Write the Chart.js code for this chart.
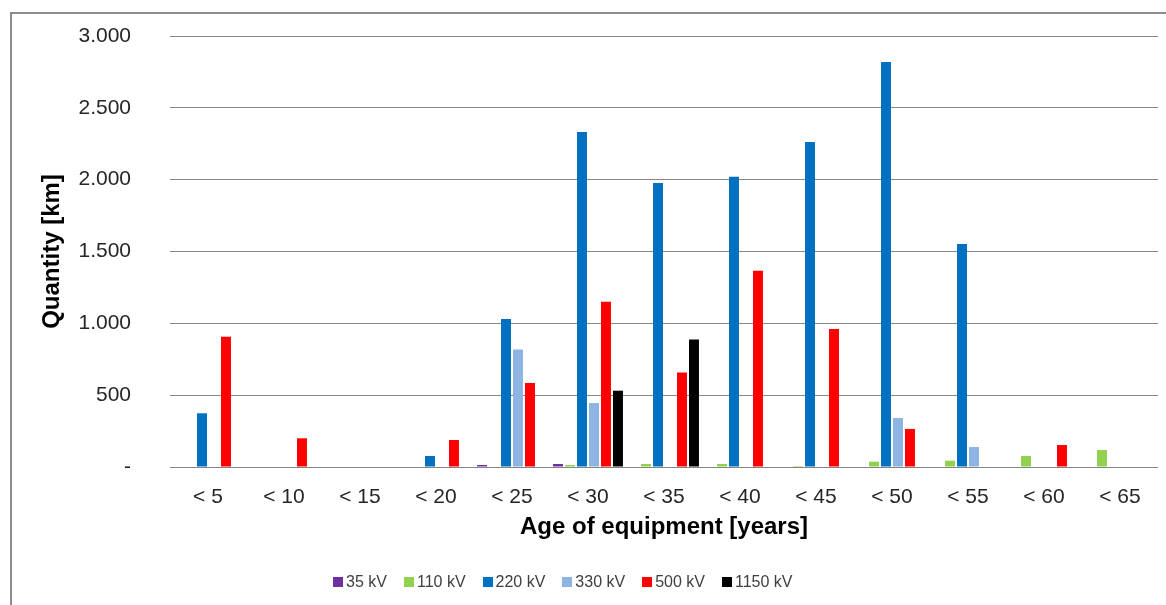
<!DOCTYPE html>
<html>
<head>
<meta charset="utf-8">
<script src="https://cdn.jsdelivr.net/npm/chart.js@4.4.1/dist/chart.umd.min.js"></script>
<style>
  html, body { margin: 0; padding: 0; background: #ffffff; }
  #wrap { position: relative; width: 1166px; height: 605px; overflow: hidden; background: #fff; }
  #frame { position: absolute; left: 10px; top: 12px; width: 1200px; height: 700px;
           border-left: 2px solid #8c8c8c; border-top: 2px solid #8c8c8c; box-sizing: border-box; }
  canvas { position: absolute; left: 0; top: 0; }
  #legend { position: absolute; left: 333px; top: 573px; display: flex; align-items: center;
            font-family: "Liberation Sans", Arial, sans-serif; font-size: 16px; color: #404040; }
  .item { display: flex; align-items: center; margin-right: 17px; }
  .box { width: 10px; height: 10px; margin-right: 3px; }
</style>
</head>
<body>
<div id="wrap">
  <div id="frame"></div>
  <canvas id="c" width="1166" height="605"></canvas>
  <div id="legend"></div>
</div>
<script>
const categories = ['< 5', '< 10', '< 15', '< 20', '< 25', '< 30', '< 35', '< 40', '< 45', '< 50', '< 55', '< 60', '< 65'];
const seriesNames = ['35 kV', '110 kV', '220 kV', '330 kV', '500 kV', '1150 kV'];
const kv35   = [0, 0, 0, 0, 14, 21, 0, 0, 0, 0, 0, 0, 0];
const kv110  = [0, 0, 0, 0, 0, 14, 21, 21, 7, 37, 44, 77, 118];
const kv220  = [374, 0, 0, 77, 1030, 2332, 1977, 2021, 2262, 2819, 1552, 0, 0];
const kv330  = [0, 0, 0, 0, 817, 445, 0, 0, 0, 341, 139, 0, 0];
const kv500  = [907, 200, 0, 188, 585, 1151, 657, 1366, 960, 265, 0, 153, 0];
const kv1150 = [0, 0, 0, 0, 0, 531, 887, 0, 0, 0, 0, 0, 0];
const yTicks = [0, 500, 1000, 1500, 2000, 2500, 3000];
const colors = ['#7030A0', '#92D050', '#0070C0', '#8DB4E2', '#FF0000', '#000000'];

const seriesValues = [kv35, kv110, kv220, kv330, kv500, kv1150];
const datasets = seriesNames.map((name, i) => ({
  label: name,
  data: seriesValues[i],
  backgroundColor: colors[i],
  borderWidth: 0,
  barPercentage: 0.83,
  categoryPercentage: 0.947
}));

function fmt(v) {
  if (v === 0) return '-';
  return String(v).replace(/\B(?=(\d{3})+(?!\d))/g, '.');
}

const chart = new Chart(document.getElementById('c'), {
  type: 'bar',
  data: { labels: categories, datasets: datasets },
  options: {
    responsive: false,
    animation: false,
    layout: { padding: { left: 0, top: 36, right: 8, bottom: 63 } },
    plugins: { legend: { display: false }, tooltip: { enabled: false } },
    scales: {
      x: {
        grid: { display: false, drawTicks: false },
        border: { display: false },
        ticks: { color: '#262626', font: { family: 'Liberation Sans', size: 21 }, padding: 18, maxRotation: 0, autoSkip: false },
        title: { display: true, text: 'Age of equipment [years]', color: '#000', padding: 0,
                 font: { family: 'Liberation Sans', size: 24, weight: 'bold' } },
        afterFit: s => { s.height = 75; s.paddingLeft = 0; s.paddingRight = 0; }
      },
      y: {
        min: 0, max: 3000,
        afterBuildTicks: s => { s.ticks = yTicks.map(v => ({ value: v })); },
        grid: { color: '#868686', lineWidth: 1, drawTicks: false },
        border: { display: false },
        ticks: { color: '#262626', font: { family: 'Liberation Sans', size: 21 }, padding: 39,
                 callback: v => fmt(v) },
        title: { display: true, text: 'Quantity [km]', color: '#000', padding: { top: 38 },
                 font: { family: 'Liberation Sans', size: 24, weight: 'bold' } },
        afterFit: s => { s.width = 170; s.paddingTop = 0; s.paddingBottom = 0; }
      }
    }
  }
});

const legend = document.getElementById('legend');
chart.data.datasets.forEach(ds => {
  const item = document.createElement('div');
  item.className = 'item';
  const box = document.createElement('div');
  box.className = 'box';
  box.style.background = ds.backgroundColor;
  const txt = document.createElement('span');
  txt.textContent = ds.label;
  item.appendChild(box);
  item.appendChild(txt);
  legend.appendChild(item);
});
</script>
</body>
</html>
